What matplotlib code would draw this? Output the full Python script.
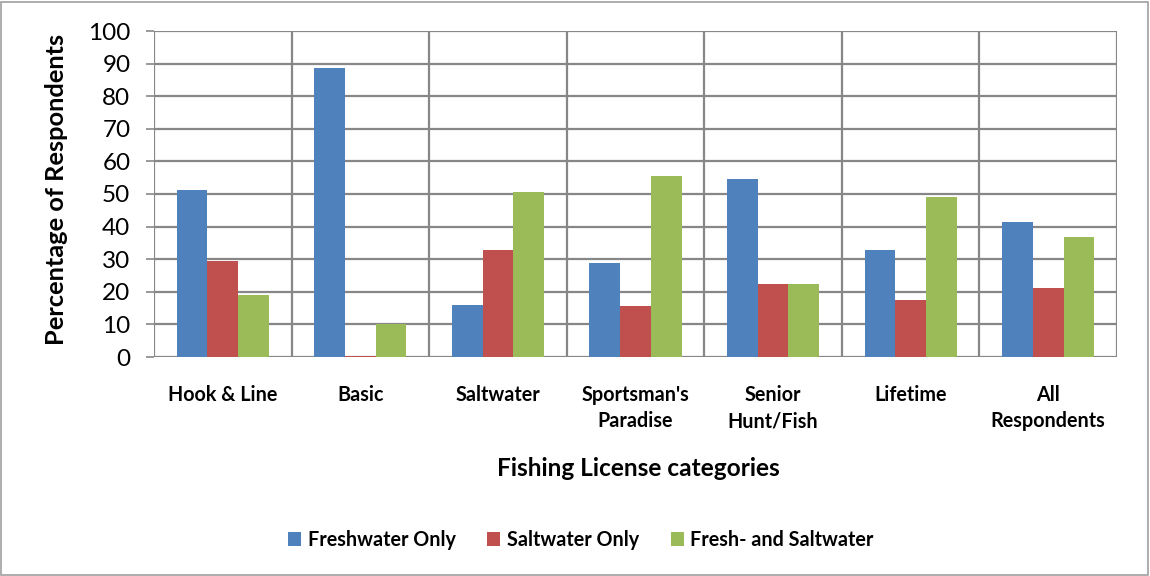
import matplotlib
matplotlib.use("Agg")
import matplotlib.pyplot as plt
from matplotlib.patches import Rectangle, Patch
import numpy as np

categories = ["Hook & Line", "Basic", "Saltwater", "Sportsman's\nParadise",
              "Senior\nHunt/Fish", "Lifetime", "All\nRespondents"]
freshwater_only = [51.2, 88.7, 16.1, 28.7, 54.7, 32.9, 41.5]
saltwater_only = [29.3, 0.4, 32.9, 15.5, 22.4, 17.5, 21.3]
fresh_and_salt = [19.0, 10.2, 50.7, 55.4, 22.4, 49.2, 36.8]
series_names = ["Freshwater Only", "Saltwater Only", "Fresh- and Saltwater"]
colors = ["#4F81BD", "#C0504D", "#9BBB59"]
yticks = list(range(0, 101, 10))

plt.rcParams['font.family'] = ['Lato', 'DejaVu Sans']

fig = plt.figure(figsize=(11.5, 5.76), dpi=100)
ax = fig.add_axes([154/1150, 1-357/576, (1117-154)/1150, (357-31)/576])

x = np.arange(len(categories))
w = 0.223
for i, (vals, c) in enumerate(zip([freshwater_only, saltwater_only, fresh_and_salt], colors)):
    ax.bar(x + (i-1)*w, vals, width=w, color=c, edgecolor='none', zorder=3)

ax.set_xlim(-0.5, len(categories)-0.5)
ax.set_ylim(0, 100)
ax.set_yticks(yticks)
ax.set_yticklabels([str(t) for t in yticks], fontsize=17.5)
grid_c = "#878787"
for yy in yticks:
    ax.axhline(yy, color=grid_c, lw=1.6, zorder=1)
for xx in np.arange(-0.5, len(categories), 1.0):
    ax.axvline(xx, color=grid_c, lw=1.6, zorder=1)
for s in ax.spines.values():
    s.set_visible(False)
ax.tick_params(axis='y', length=6, width=1.2, color=grid_c, pad=11)
ax.set_xticks(x)
ax.set_xticklabels(categories, fontsize=14.2, fontweight='bold', linespacing=1.4)
ax.tick_params(axis='x', length=0, pad=20)

fig.text(56/1150, 1-189/576, "Percentage of Respondents", fontsize=18.3,
         fontweight='bold', ha='center', va='center', rotation=90)
fig.text(638/1150, 1-468/576, "Fishing License categories", fontsize=17.6,
         fontweight='bold', ha='center', va='center')

handles = [Patch(facecolor=c, edgecolor='none') for c in colors]
fig.legend(handles, series_names, loc='center', bbox_to_anchor=(581/1150, 1-540/576),
           ncol=3, frameon=False, prop={'weight': 'bold', 'size': 14.2},
           handlelength=0.65, handleheight=0.65, handletextpad=0.35, columnspacing=1.6)

fig.patches.append(Rectangle((1/1150, 1/576), 1147/1150, 573/576, transform=fig.transFigure,
                             fill=False, edgecolor="#A0A0A0", lw=1.2))

fig.savefig("out.png", dpi=100)
